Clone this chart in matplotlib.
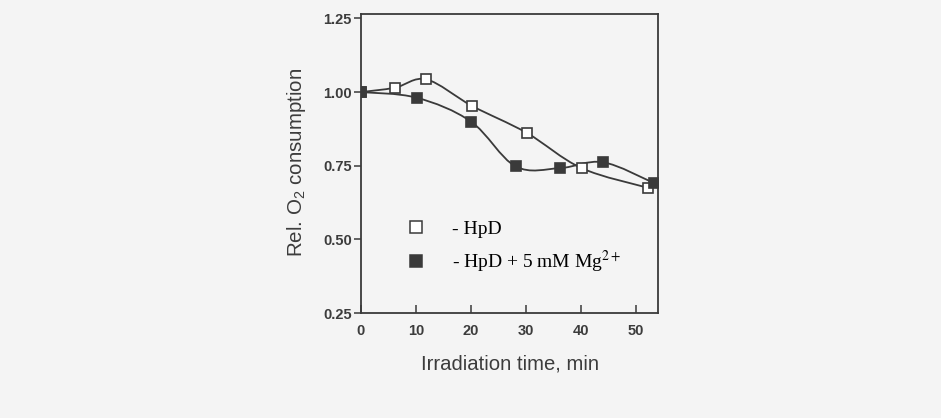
import numpy as np
import matplotlib
matplotlib.use('Agg')
import matplotlib.pyplot as plt
from matplotlib.path import Path
from matplotlib.patches import PathPatch
from matplotlib.lines import Line2D

plt.rcParams['font.family'] = ['Liberation Sans', 'DejaVu Sans']
plt.rcParams['mathtext.fontset'] = 'custom'
plt.rcParams['mathtext.rm'] = 'Liberation Sans'
plt.rcParams['mathtext.it'] = 'Liberation Sans:italic'

# data
time_hpd = [0, 6.2, 11.9, 20.2, 30.1, 40.1, 52.2]
o2_hpd = [1.00, 1.015, 1.043, 0.953, 0.862, 0.742, 0.675]

time_mg = [0, 10.1, 20.0, 28.1, 36.2, 44.0, 53.2]
o2_mg = [1.00, 0.981, 0.900, 0.748, 0.742, 0.762, 0.692]

x_ticks = [0, 10, 20, 30, 40, 50]
y_ticks = [0.25, 0.50, 0.75, 1.00, 1.25]

ink = '#3a3a3a'
text_col = '#3c3c3c'
bg = '#f4f4f4'


def smooth_path(x, y):
    # Catmull-Rom curve through the points, written as cubic bezier pieces
    pts = np.column_stack([x, y]).astype(float)
    verts = [pts[0]]
    codes = [Path.MOVETO]
    n = len(pts)
    for i in range(n - 1):
        p0 = pts[i - 1] if i > 0 else pts[i]
        p1 = pts[i]
        p2 = pts[i + 1]
        p3 = pts[i + 2] if i + 2 < n else pts[i + 1]
        c1 = p1 + (p2 - p0) / 6.0
        c2 = p2 - (p3 - p1) / 6.0
        verts += [c1, c2, p2]
        codes += [Path.CURVE4] * 3
    return Path(verts, codes)


fig = plt.figure(figsize=(9.41, 4.18), dpi=100, facecolor=bg)
ax = fig.add_axes([0.3836, 0.2510, 0.3156, 0.7155], facecolor=bg)

for xs, ys in [(time_hpd, o2_hpd), (time_mg, o2_mg)]:
    ax.add_patch(PathPatch(smooth_path(xs, ys), facecolor='none',
                           edgecolor=ink, lw=1.3, zorder=2))

ax.plot(time_hpd, o2_hpd, ls='none', marker='s', ms=7.5, mfc='white',
        mec=ink, mew=1.2, zorder=3)
ax.plot(time_mg, o2_mg, ls='none', marker='s', ms=7.5, mfc='#3a3a3a',
        mec=ink, mew=1.2, zorder=4)

ax.set_xlim(0, 54)
ax.set_ylim(0.25, 1.265)
ax.set_xticks(x_ticks)
ax.set_yticks(y_ticks)
ax.set_yticklabels([f'{v:.2f}' for v in y_ticks])
ax.tick_params(width=1.1, color=ink, labelsize=10.5, labelcolor=text_col)
ax.tick_params(axis='x', direction='in', length=6, pad=8)
ax.tick_params(axis='y', direction='out', length=5, pad=1.5)
for lab in ax.get_xticklabels() + ax.get_yticklabels():
    lab.set_fontweight('bold')
for s in ax.spines.values():
    s.set_color(ink)
    s.set_linewidth(1.3)

ax.set_xlabel('Irradiation time, min', fontsize=14.6, color=text_col)
ax.set_ylabel('Rel. O$_2$ consumption', fontsize=14.8, color=text_col)
ax.xaxis.set_label_coords(0.502, -0.138)
ax.yaxis.set_label_coords(-0.18, 0.505)

handles = [
    Line2D([0], [0], ls='none', marker='s', ms=8, mfc='white', mec=ink, mew=1.1),
    Line2D([0], [0], ls='none', marker='s', ms=8, mfc='#3a3a3a', mec=ink, mew=1.1),
]
ax.legend(handles, ['- HpD', '- HpD + 5 mM Mg$^{2+}$'], loc='lower left',
          bbox_to_anchor=(0.093, 0.07), frameon=False, handlelength=1.0,
          handletextpad=1.35, labelspacing=0.55,
          prop={'family': 'Liberation Serif', 'size': 14, 'math_fontfamily': 'stix'})

fig.savefig('out.png', dpi=100, facecolor=bg)
